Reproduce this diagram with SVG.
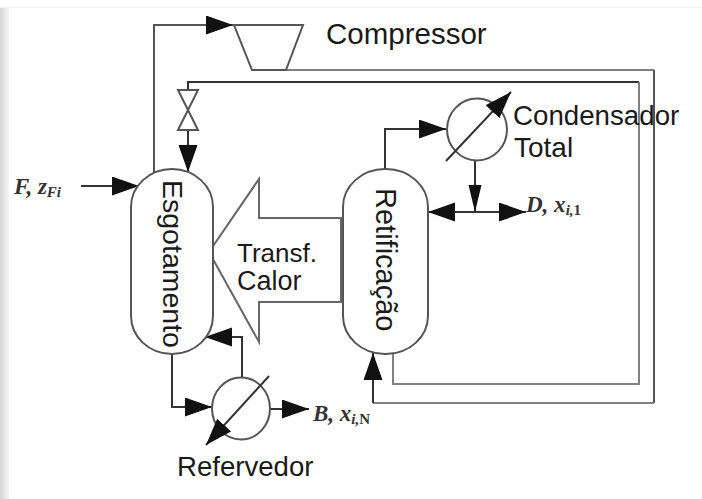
<svg xmlns="http://www.w3.org/2000/svg" width="702" height="499" viewBox="0 0 702 499">
<defs>
<linearGradient id="edge" x1="0" x2="1" y1="0" y2="0"><stop offset="0" stop-color="#d4d4d4"/><stop offset="1" stop-color="#f6f6f6"/></linearGradient>
<marker id="ah" markerUnits="userSpaceOnUse" markerWidth="28" markerHeight="20" refX="27" refY="9.5" orient="auto"><path d="M0 0L27 9.5L0 19Z" fill="#111"/></marker>
<marker id="an" markerUnits="userSpaceOnUse" markerWidth="28" markerHeight="14" refX="27" refY="6.5" orient="auto"><path d="M0 0L27 6.5L0 13Z" fill="#111"/></marker>
</defs>
<style>
.l{fill:none;stroke:#555;stroke-width:2}
.d{fill:none;stroke:#333;stroke-width:2}
.g{fill:none;stroke:#808080;stroke-width:2}
.a{marker-end:url(#ah)}
.n{marker-end:url(#an)}
.s{fill:#fff;stroke:#555;stroke-width:2}
text{font-family:"Liberation Sans",Arial,sans-serif;font-size:28px;fill:#1a1a1a}
.m{font-family:"Liberation Serif","Times New Roman",serif;font-style:italic;font-weight:bold;font-size:23px;fill:#333}
.b{font-size:15px}
.u{font-size:15px;font-style:normal}
</style>
<rect width="702" height="499" fill="#fff"/>
<rect x="0" y="7" width="702" height="1" fill="#f0f0f0"/>
<rect x="0" y="8" width="9" height="491" fill="url(#edge)"/>
<g id="connectors">
<path class="l a" d="M154 176V25H233"/>
<path class="g" d="M286 70H654"/>
<path class="l" d="M654 70V403"/>
<path class="g" d="M654 403H373"/>
<path class="d" d="M188 90V82H639"/>
<path class="g" d="M639 82V384H393V350"/>
<path class="d a" d="M373 403V353"/>
<path class="d a" d="M188 130V172"/>
<path class="d a" d="M81 186H139"/>
<path class="d a" d="M385 172V129H446"/>
<path class="d n" d="M475 160V212"/>
<path class="d a" d="M475 212H428"/>
<path class="d a" d="M475 212H526"/>
<path class="d a" d="M172 350V407H212"/>
<path class="d a" d="M242 378V337H205"/>
<path class="d a" d="M269 409H309"/>
</g>
<g id="compressor"><path class="s" d="M234 25H303L286 70H252Z"/><text x="326" y="44" font-size="29.5" style="font-size:29.5px">Compressor</text></g>
<g id="valve"><path class="s" d="M178 90H198L178 130H198Z"/></g>
<g id="transf-calor"><path d="M341 218H259V179L209 252L259 342V302H341Z" fill="#fff" stroke="#666" stroke-width="2"/><text x="237" y="262" style="font-size:26px">Transf.</text><text x="237" y="290" style="font-size:27px">Calor</text></g>
<g id="esgotamento"><rect class="s" x="131" y="169" width="82" height="185" rx="41" ry="38"/><text transform="translate(163 180) rotate(90)" style="font-size:28.5px">Esgotamento</text></g>
<g id="retificacao"><rect class="s" x="343" y="169" width="85" height="185" rx="42" ry="38"/><text transform="translate(376 188) rotate(90)" style="font-size:29px">Retificação</text></g>
<g id="condensador"><ellipse class="s" cx="477" cy="129.500" rx="30" ry="31"/><path class="d a" d="M446 161L511 92"/><text x="513" y="125" style="font-size:27.700px">Condensador</text><text x="514" y="157">Total</text></g>
<g id="refervedor"><ellipse class="s" cx="241" cy="408.500" rx="29" ry="31"/><path class="d a" d="M269 376L206 445"/><text x="177" y="476" style="font-size:27.600px">Refervedor</text></g>
<g id="labels">
<text class="m" x="14" y="194">F, z<tspan class="b" dy="3">Fi</tspan></text>
<text class="m" x="526" y="212">D, x<tspan class="b" dy="3">i,</tspan><tspan class="u">1</tspan></text>
<text class="m" x="313" y="421">B, x<tspan class="b" dy="3">i,</tspan><tspan class="u">N</tspan></text>
</g>
</svg>
